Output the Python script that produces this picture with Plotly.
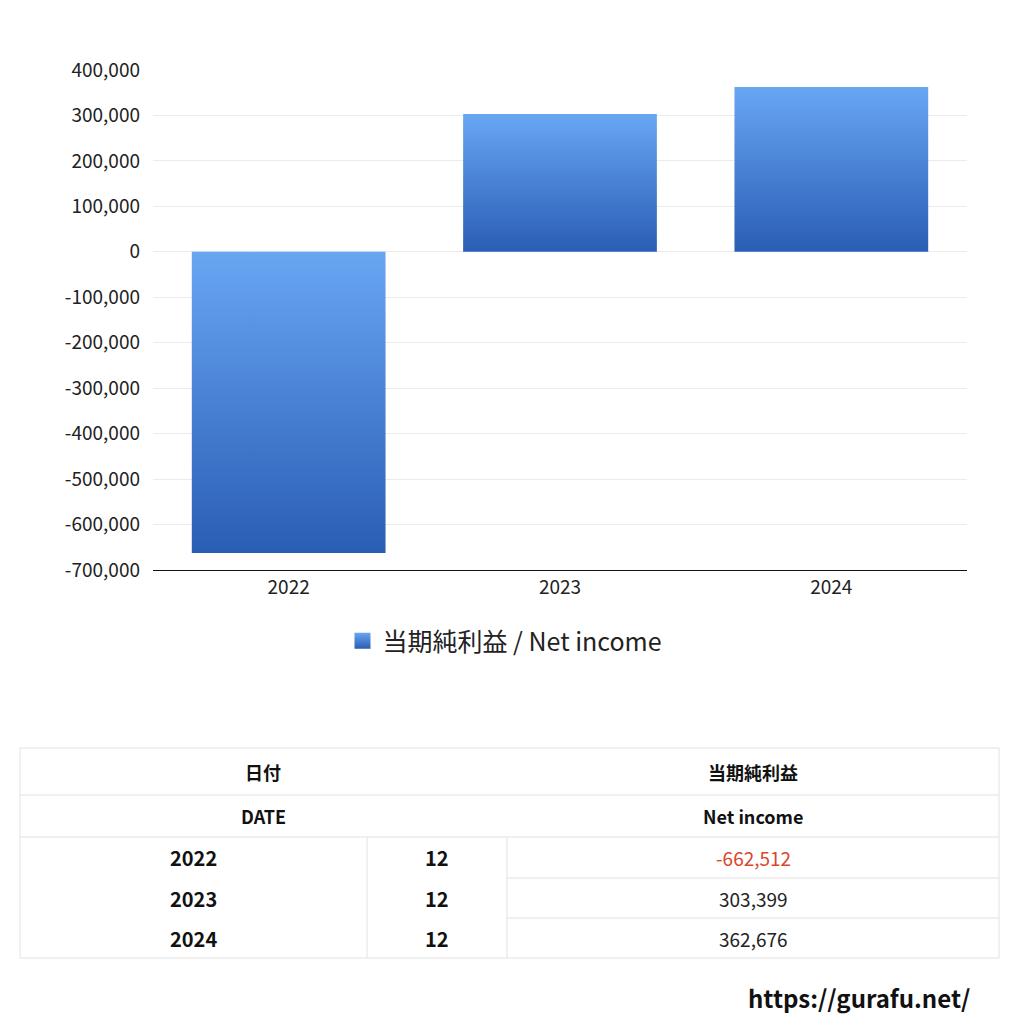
import plotly.graph_objects as go

# data
years = ["2022", "2023", "2024"]
months = ["12", "12", "12"]
net_income = [-662512, 303399, 362676]
y_ticks = list(range(-700000, 400001, 100000))
y_ticktext = [f"{v:,}" for v in y_ticks]
series_name = "当期純利益 / Net income"
head_date = ["日付", "DATE"]
head_value = ["当期純利益", "Net income"]

FONT = "Noto Sans CJK JP"
OFF = 8          # page body margin
W = H = 1024 - 2 * OFF
bar_half = 0.357
dark, light = "#2a5db5", "#68a6f2"
grad = [[0, dark], [1, light]]


def px(x):
    return (x - OFF) / W


def py(y):
    return 1 - (y - OFF) / H


fig = go.Figure()

for i, v in enumerate(net_income):
    lo, hi = min(0, v), max(0, v)
    fig.add_trace(go.Scatter(
        x=[i - bar_half, i + bar_half, i + bar_half, i - bar_half, i - bar_half],
        y=[lo, lo, hi, hi, lo],
        mode="lines", line=dict(width=0),
        fill="toself",
        fillgradient=dict(type="vertical", colorscale=grad, start=lo, stop=hi),
        name=series_name, showlegend=False,
        hoverinfo="skip",
    ))

# legend swatch only
fig.add_trace(go.Scatter(
    x=[None], y=[None], mode="markers", name=series_name,
    marker=dict(symbol="square", size=20, color=light,
                gradient=dict(type="vertical", color=dark),
                line=dict(width=0)),
))

# table drawn with lines + text
line_c = "#e2e2e2"
shapes = []


def hline(x0, x1, y):
    shapes.append(dict(type="line", xref="paper", yref="paper",
                       x0=px(x0), x1=px(x1), y0=py(y), y1=py(y),
                       line=dict(color=line_c, width=1)))


def vline(x, y0, y1):
    shapes.append(dict(type="line", xref="paper", yref="paper",
                       x0=px(x), x1=px(x), y0=py(y0), y1=py(y1),
                       line=dict(color=line_c, width=1)))


for y in [748, 795, 837, 958]:
    hline(20, 999, y)
for y in [878, 918]:
    hline(507, 999, y)
vline(20, 748, 958)
vline(999, 748, 958)
vline(367, 837, 958)
vline(507, 837, 958)

annos = []


def txt(s, x, y, size, bold=False, color="#111111", anchor="center",
        yanchor="middle"):
    annos.append(dict(text=f"<b>{s}</b>" if bold else s, x=px(x), y=py(y),
                      xref="paper", yref="paper", showarrow=False,
                      xanchor=anchor, yanchor=yanchor, borderpad=0,
                      font=dict(family=FONT, size=size, color=color)))


txt(head_date[0], 263, 772, 18, True)
txt(head_date[1], 263, 816, 18, True)
txt(head_value[0], 753, 772, 18, True)
txt(head_value[1], 753, 816, 18, True)
row_y = [857, 898, 938]
for yr, m, v, ry in zip(years, months, net_income, row_y):
    txt(yr, 193, ry, 20, True)
    txt(m, 437, ry, 20, True)
    txt(f"{v:,}", 753, ry, 19, False, "#d9472b" if v < 0 else "#222222")

txt("https://gurafu.net/", 971, 1016, 24, True, "#111111", "right", "bottom")

fig.update_layout(
    width=W, height=H,
    margin=dict(l=0, r=0, t=0, b=0),
    paper_bgcolor="white", plot_bgcolor="white",
    font=dict(family=FONT, color="#222222"),
    xaxis=dict(domain=[px(153), px(967)], range=[-0.5, 2.5],
               tickvals=list(range(len(years))), ticktext=years,
               showgrid=False, zeroline=False, showline=True,
               linecolor="#111111", linewidth=1, ticks="",
               tickfont=dict(size=19, color="#222222"), automargin=False,
               fixedrange=True),
    yaxis=dict(domain=[py(570), py(70)], range=[-700000, 400000],
               tickvals=y_ticks, ticktext=y_ticktext,
               showgrid=True, gridcolor="#ebebeb", gridwidth=1,
               zeroline=False, ticks="", ticklabelstandoff=12,
               tickfont=dict(size=19, color="#222222"), automargin=False,
               fixedrange=True),
    showlegend=True,
    legend=dict(orientation="h", x=px(505), y=py(641), xanchor="center",
                yanchor="middle", font=dict(size=25, color="#222222"),
                itemsizing="trace"),
    shapes=shapes, annotations=annos,
)

fig.write_html("out.html")
